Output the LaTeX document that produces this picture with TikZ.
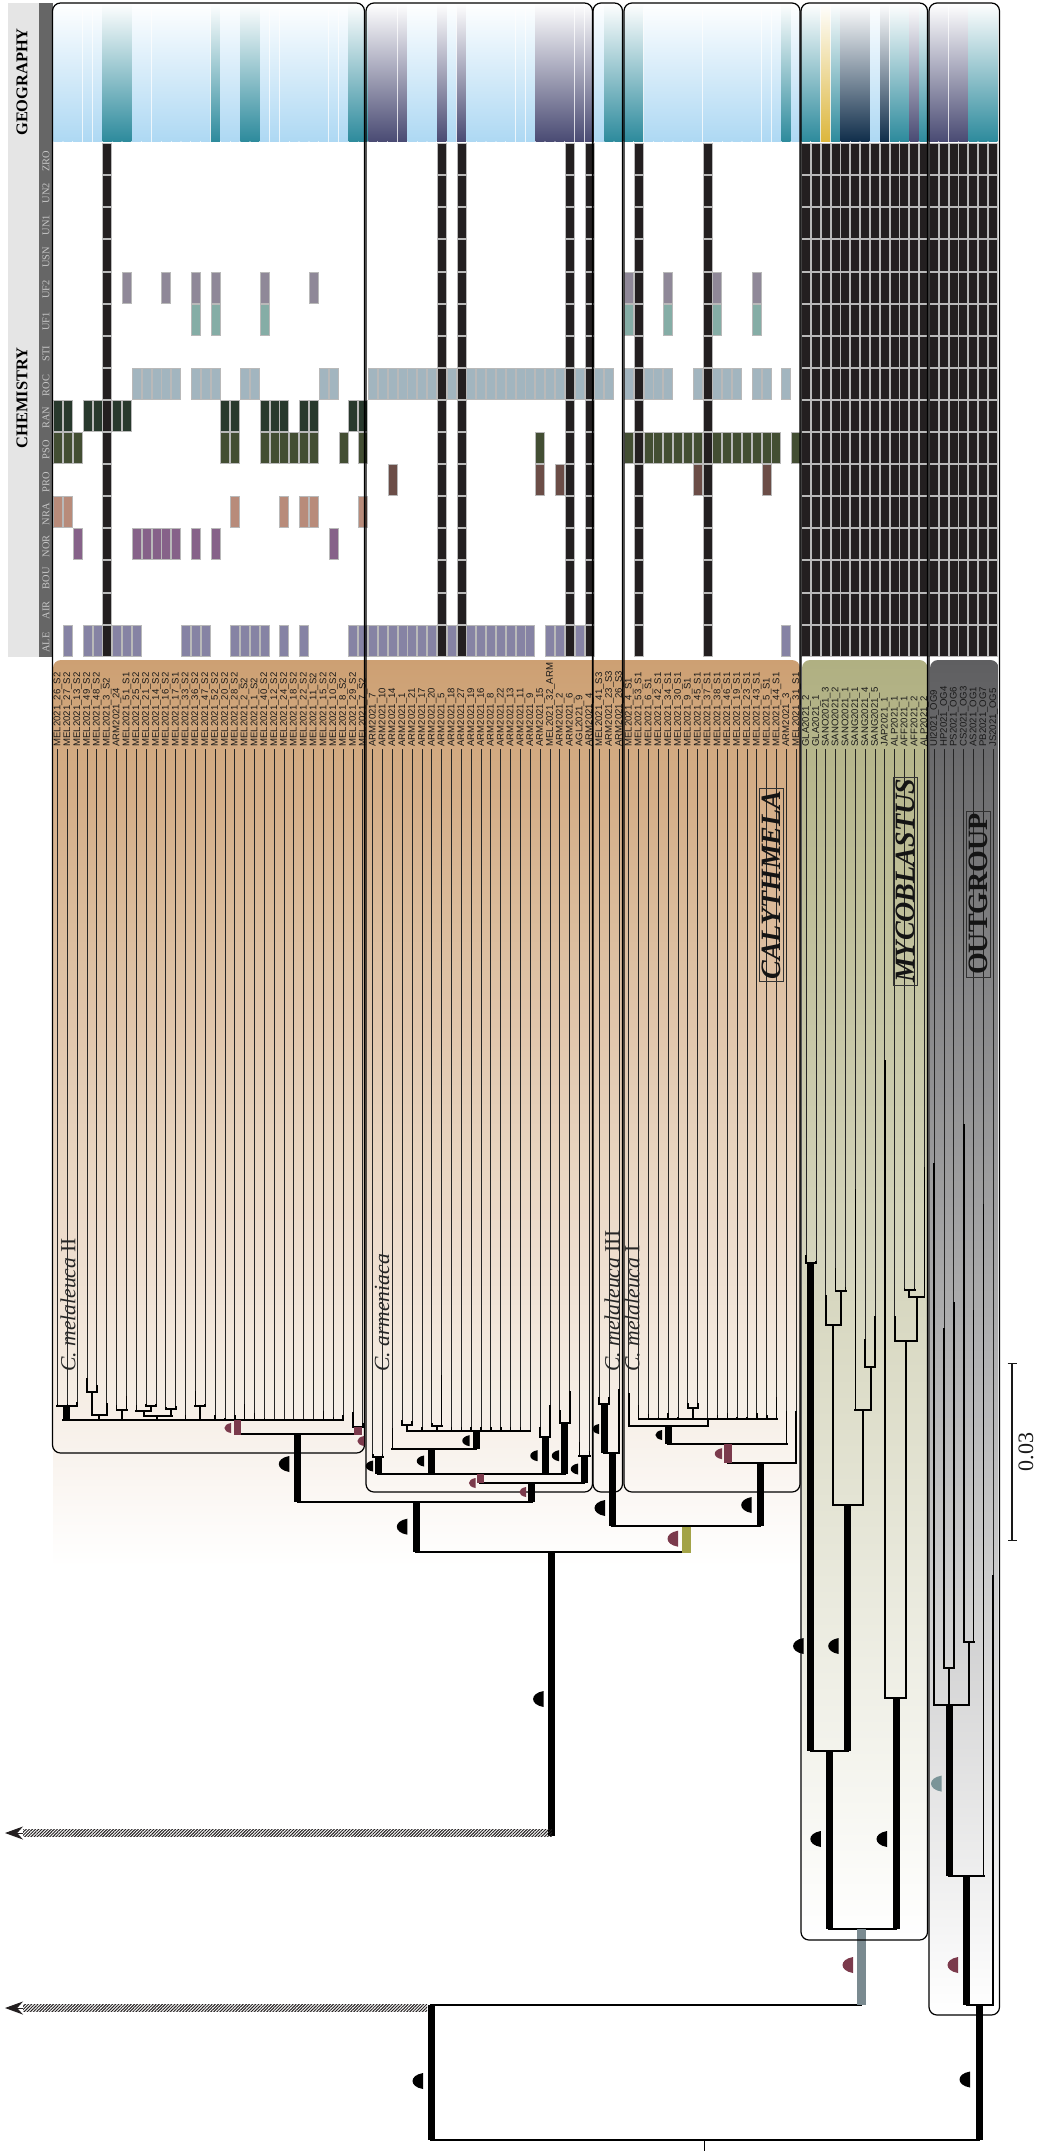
\documentclass[tikz,border=0pt]{standalone}
\usepackage{fontspec}
\setmainfont{Liberation Serif}
\newfontfamily\taxonfont{Liberation Sans}
\usepackage{tikz}
\usetikzlibrary{arrows.meta, patterns.meta}

\definecolor{skygeo}{HTML}{ADD8F3}
\definecolor{tealgeo}{HTML}{2C8A9C}
\definecolor{navygeo}{HTML}{494A73}
\definecolor{darkgeo}{HTML}{0F2D4A}
\definecolor{yellowgeo}{HTML}{DCB63C}
\definecolor{cellblack}{HTML}{231F20}
\definecolor{uftwo}{HTML}{8F8898}
\definecolor{ufone}{HTML}{85ADA6}
\definecolor{roccol}{HTML}{A2B5BF}
\definecolor{rancol}{HTML}{28392D}
\definecolor{psocol}{HTML}{434E33}
\definecolor{procol}{HTML}{6B4D47}
\definecolor{nracol}{HTML}{B88B7A}
\definecolor{norcol}{HTML}{866289}
\definecolor{alecol}{HTML}{8683A4}
\definecolor{caly}{RGB}{205,160,115}
\definecolor{myco}{RGB}{176,176,130}
\definecolor{ogrp}{RGB}{95,95,97}
\definecolor{suppred}{HTML}{7B3A4C}
\definecolor{suppteal}{HTML}{7A9498}
\definecolor{suppolive}{HTML}{A3A347}
\definecolor{suppgrey}{HTML}{7A8A90}

% half-ellipse support mark: colour, right edge x, centre y, half height
\newcommand{\suppmark}[4][black]{%
  \fill[#1] (#2,#3-#4) .. controls (#2-1.75*#4,#3-0.7*#4) and (#2-1.75*#4,#3+0.7*#4) .. (#2,#3+#4) -- cycle;}
% colour, columns
\newcommand{\geocols}[2]{%
  \foreach \i [evaluate=\i as \cx using 58+9.84*\i] in {#2}
    {\shade[top color=white, bottom color=#1] (\cx-4.55,3) rectangle (\cx+4.55,142);}}
% row, colour, columns
\newcommand{\chemrow}[3]{%
  \foreach \i [evaluate=\i as \cx using 58+9.84*\i] in {#3}
    {\filldraw[matcell, fill=#2] (\cx-4.5,{143.5+32.1*#1}) rectangle (\cx+4.5,{174.6+32.1*#1});}}

\begin{document}
\begin{tikzpicture}[x=0.5pt, y=-0.5pt, >=Stealth,
    every node/.style={inner sep=0pt},
    matcell/.style={draw=gray!55, line width=0.35pt},
    taxon/.style={rotate=90, anchor=west, font=\taxonfont\fontsize{4.8}{5}\selectfont, text height=3.4pt, text depth=0.6pt, text=black!90},
    rowname/.style={rotate=90, text=black!22, font=\fontsize{5.2}{6}\selectfont},
    headname/.style={rotate=90, font=\bfseries\fontsize{8.2}{9}\selectfont},
    cladename/.style={rotate=90, anchor=west, text=black!85, font=\fontsize{10.8}{12}\selectfont},
    genusname/.style={rotate=90, draw=black!80, line width=0.3pt, inner xsep=1pt, inner ysep=1.2pt, text=black!92, font=\bfseries\itshape\fontsize{14}{15}\selectfont},
    cladebox/.style={draw=black, line width=0.6pt, rounded corners=4pt},
    tipline/.style={draw=black!85, line width=0.45pt},
    tipthick/.style={draw=black, line width=0.8pt},
    brbar/.style={draw=black, line width=1.1pt, line cap=rect},
    brthin/.style={draw=black, line width=1pt},
    brstem/.style={draw=black, line width=3.5pt}]
  \useasboundingbox (0,0) rectangle (1039,2151);
  \fill[white] (0,0) rectangle (1039,2151);

  % --- header bands ---
  \fill[black!10] (8,3) rectangle (39,657);
  \fill[black!60] (39,3) rectangle (53,657);
  \node[headname] (geo) at (22,82) {GEOGRAPHY};
  \node[headname] (chem) at (22,398) {CHEMISTRY};
  \foreach \lab [count=\r from 0] in {ZRO,UN2,UN1,USN,UF2,UF1,STI,ROC,RAN,PSO,PRO,NRA,NOR,BOU,AIR,ALE}
    \node[rowname] (r\r) at (46,{161+32.1*\r}) {\lab};

  % --- geography ---
  \geocols{skygeo}{0,1,2,3,4,8,9,10,11,12,13,14,15,17,18,21,22,23,24,25,26,27,28,29,36,37,38,40,42,43,44,45,46,47,48,55,60,61,62,63,64,65,66,67,68,69,70,71,72,73,75,83}
  \geocols{tealgeo}{5,6,7,16,19,20,30,31,56,57,58,59,74,76,77,79,85,86,88,93,94,95}
  \geocols{navygeo}{32,33,34,35,39,41,49,50,51,52,53,54,87,89,90,91,92}
  \geocols{darkgeo}{80,81,82,84}
  \geocols{yellowgeo}{78}

  % --- chemistry ---
  \chemrow{4}{uftwo}{7,11,14,16,21,26,58,62,67,71}
  \chemrow{5}{ufone}{14,16,21,58,62,67,71}
  \chemrow{7}{roccol}{8,9,10,11,12,14,15,16,19,20,27,28,32,33,34,35,36,37,38,40,42,43,44,45,46,47,48,49,50,51,53,55,56,58,60,61,62,65,67,68,69,71,72,74}
  \chemrow{8}{rancol}{0,1,3,4,6,7,17,18,21,22,23,25,26,30,31}
  \chemrow{9}{psocol}{0,1,2,17,18,21,22,23,24,25,26,29,31,49,58,60,61,62,63,64,65,67,68,69,70,71,72,73,75}
  \chemrow{10}{procol}{34,49,51,65,72}
  \chemrow{11}{nracol}{0,1,18,23,25,26,31}
  \chemrow{12}{norcol}{2,8,9,10,11,12,14,16,28}
  \chemrow{15}{alecol}{1,3,4,6,7,8,13,14,15,18,19,20,21,23,25,30,31,32,33,34,35,36,37,38,40,42,43,44,45,46,47,48,50,51,53,74}
  \foreach \r in {0,...,15}
    {\chemrow{\r}{cellblack}{5,39,41,52,54,59,66,76,77,78,79,80,81,82,83,84,85,86,87,88,89,90,91,92,93,94,95}}

  % --- clade gradients ---
  \shade[top color=caly, bottom color=white, rounded corners=4pt] (53,660) rectangle (800,1567);
  \shade[top color=myco, bottom color=white, rounded corners=4pt] (802,660) rectangle (927.5,1940);
  \shade[top color=ogrp, bottom color=white, rounded corners=4pt] (930,660) rectangle (998.5,2015);

  % --- taxa ---
  \foreach \lab [count=\i from 0, evaluate=\i as \cx using 57.5+9.85*\i] in {
      MEL2021\_26\_S2,MEL2021\_27\_S2,MEL2021\_13\_S2,MEL2021\_49\_S2,MEL2021\_48\_S2,MEL2021\_3\_S2,ARM2021\_24,MEL2021\_51\_S1,
      MEL2021\_25\_S2,MEL2021\_21\_S2,MEL2021\_14\_S2,MEL2021\_16\_S2,MEL2021\_17\_S1,MEL2021\_33\_S2,MEL2021\_36\_S2,MEL2021\_47\_S2,
      MEL2021\_52\_S2,MEL2021\_20\_S2,MEL2021\_28\_S2,MEL2021\_2\_S2,MEL2021\_1\_S2,MEL2021\_40\_S2,MEL2021\_12\_S2,MEL2021\_24\_S2,
      MEL2021\_18\_S2,MEL2021\_22\_S2,MEL2021\_11\_S2,MEL2021\_15\_S2,MEL2021\_10\_S2,MEL2021\_8\_S2,MEL2021\_29\_S2,MEL2021\_7\_S2,
      ARM2021\_7,ARM2021\_10,ARM2021\_14,ARM2021\_1,ARM2021\_21,ARM2021\_17,ARM2021\_20,ARM2021\_5,ARM2021\_18,ARM2021\_27,ARM2021\_19,
      ARM2021\_16,ARM2021\_8,ARM2021\_22,ARM2021\_13,ARM2021\_11,ARM2021\_9,ARM2021\_15,MEL2021\_32\_ARM,ARM2021\_2,ARM2021\_6,AGL2021\_9,ARM2021\_4,
      MEL2021\_41\_S3,ARM2021\_23\_S3,ARM2021\_26\_S3,
      MEL2021\_4\_S1,MEL2021\_53\_S1,MEL2021\_6\_S1,MEL2021\_42\_S1,MEL2021\_34\_S1,MEL2021\_30\_S1,MEL2021\_9\_S1,MEL2021\_45\_S1,
      MEL2021\_37\_S1,MEL2021\_38\_S1,MEL2021\_46\_S1,MEL2021\_19\_S1,MEL2021\_23\_S1,MEL2021\_43\_S1,MEL2021\_5\_S1,MEL2021\_44\_S1,ARM2021\_3,MEL2021\_31\_S1,
      GLA2021\_2,GLA2021\_1,SANO2021\_3,SANO2021\_2,SANO2021\_1,SANG2021\_1,SANG2021\_4,SANG2021\_5,JAP2021\_1,ALP2021\_1,AFF2021\_1,AFF2021\_2,ALP2021\_2,
      UI2021\_OG9,HP2021\_OG4,PS2021\_OG6,CS2021\_OG3,AS2021\_OG1,PB2021\_OG7,JS2021\_OG5}
    \node[taxon] (t\i) at (\cx,747) {\lab};

  % --- tips: index / end of branch / where the thick part starts ---
  \foreach \i/\yend/\ythick [evaluate=\i as \cx using 57.5+9.85*\i] in {
      0/1405.7/1404,1/1405.7/1404,2/1405.7/1402,3/1392.3/1378.3,4/1392.3/1385,5/1415/1403.3,6/1410/1405,7/1410/1395.7,
      8/1410.7/1405,9/1405.7/1404,10/1405.7/1404,11/1409.3/1407,12/1409.3/1406,13/1420/1415,14/1405.7/1391,15/1405.7/1404,
      16/1420/1415,17/1420/1418,18/1420/1415,19/1420/1404,20/1420/1412.7,21/1420/1418.3,22/1420/1418.5,23/1420/1418.5,
      24/1420/1418.5,25/1420/1418.5,26/1420/1418.5,27/1420/1410.7,28/1420/1417.3,29/1420/1415,30/1426.7/1412.3,31/1426.7/1422.7,
      32/1456.7/1454,33/1456.7/1454,34/1449.3/1428.3,35/1425/1420,36/1425/1421,37/1430.7/1427,38/1426/1423,39/1426/1375,
      40/1430.7/1426.7,41/1430.7/1426.7,42/1430.7/1426.7,43/1430.7/1427,44/1430.7/1427,45/1430.7/1427,46/1430.7/1427,47/1430.7/1427,48/1430.7/1430,
      49/1436.7/1426.7,50/1436.7/1405,51/1423.3/1410,52/1423.3/1391,53/1455.7/1441.7,54/1455.7/1450.7,
      55/1404/1396.7,56/1404/1397,57/1453.3/1389.3,
      58/1425.7/1393.3,59/1419.3/1405,60/1419.3/1414.3,61/1419.3/1416.7,62/1419.3/1413.3,63/1419.3/1416.7,64/1408.3/1403.3,65/1408.3/1403.3,
      66/1419.3/1419,67/1419.3/1415,68/1419.3/1413.3,69/1419.3/1416.7,70/1419.3/1416.7,71/1419.3/1413.3,72/1419.3/1415,73/1419.3/1396.7,74/1444.3/1410.7,75/1463.3/1410.7,
      76/1263/1255,77/1263/1261,78/1325/1295,79/1291/1268,80/1291/1287,81/1410/1189,82/1367/1339,83/1367/1316,84/1698/1060,85/1341/1316,86/1290/1288,87/1290/1288,88/1297/1167,
      89/1705/1163,90/1668/1328,91/1668/1302,92/1642/1124,93/1642/1310,94/1876/1204,95/2005/1575}{
    \draw[tipline] ([yshift=-1.2pt]t\i.west) -- (\cx,\yend);
    \draw[tipthick] (\cx,\ythick) -- (\cx,\yend);
  }

  % --- horizontal bars: from / to / y ---
  \foreach \xa/\xb/\yy in {
      57.5/77.2/1405.7,87/97/1392.3,92/106.7/1415,117/126.7/1410,146/155.8/1405.7,136/150.7/1410.7,143.7/171.7/1415.7,165.9/175.7/1409.3,
      195.4/205.3/1405.7,63.3/343.2/1420,237.7/358.3/1434.3,353/362.9/1426.7,297.7/531.7/1501.7,
      372.7/382.6/1456.7,378.3/564.7/1474,392.4/476/1449.3,406.7/530.3/1430.7,402.2/412.1/1425,431.8/441.6/1426,540.1/550/1436.7,559.8/569.7/1423.3,579.5/589.4/1455.7,
      480/584.3/1483.3,416/686/1551.7,612.3/760/1526,604.3/619/1453.3,599.2/609/1404,727.7/796.3/1463.3,668.3/786.4/1444.3,628.8/708.3/1425.7,638.6/776.6/1419.3,687.9/697.7/1408.3,
      806/816/1263,810.7/848/1751,833.3/862.7/1505,825.7/841/1325,835.7/845.5/1291,855.3/870.7/1410,865.2/875/1367,829/896/1929,885/906/1698,895/917/1341,909.3/924.3/1297,904.6/914.5/1290,
      431/861/2005,431/979/2140,966.6/993.3/2005,949/983.4/1876,934/969/1705,944/953.9/1668,963.7/973.6/1642}
    \draw[brbar] (\xa,\yy) -- (\xb,\yy);

  % --- small stems: x / from / to ---
  \foreach \xx/\ya/\yb in {
      92/1392.3/1415,99.3/1415/1420,121.7/1410/1420,150.7/1405.7/1410.7,143.7/1410.7/1415.7,171/1409.3/1415.7,157.3/1415.7/1420,200.3/1405.7/1420,
      407/1425/1430.7,436.7/1426/1430.7,708.3/1419.3/1425.7,692.7/1408.3/1419.3,
      833.3/1325/1505,841/1291/1325,862.7/1410/1505,870.7/1367/1410,906/1341/1698,917/1297/1341,909.3/1290/1297,949/1668/1705,969/1642/1705}
    \draw[brthin] (\xx,\ya) -- (\xx,\yb);
  \draw[draw=black, line width=0.5pt] (704.7,2140) -- (704.7,2151);

  % --- thick stems: x / from / to ---
  \foreach \xx/\ya/\yb in {
      66.7/1405.7/1420,297.7/1434/1501.7,378.3/1456.7/1474,431/1449.3/1474,476/1430/1449.3,545/1436.7/1474,564.7/1423.3/1474,584.3/1455.7/1483.3,531.7/1483.3/1501.7,
      416/1501.7/1551.7,612.3/1453.3/1526,604.3/1404/1453.3,760/1463.3/1526,668.3/1425.7/1444.3,551.7/1551.7/1836,
      810.7/1263/1751,847/1505/1751,829/1751/1929,896/1698/1929,431/2005/2140,979/2005/2140,966.6/1876/2005,949/1705/1876}
    \draw[brstem] (\xx,\ya) -- (\xx,\yb);
  \draw[brstem, draw=suppred] (237.7,1420) -- (237.7,1435);
  \draw[brstem, draw=suppred, line width=4pt] (358.3,1426.7) -- (358.3,1435);
  \draw[brstem, draw=suppred] (480,1474) -- (480,1483);
  \draw[brstem, draw=suppred, line width=4pt] (727.7,1444.3) -- (727.7,1463.3);
  \draw[brstem, draw=suppolive, line width=4.5pt] (686,1526.7) -- (686,1552.7);
  \draw[brstem, draw=suppgrey, line width=4.5pt] (861,1929) -- (861,2005);

  % --- cut branches ---
  \coordinate (cuta) at (23,1833);
  \coordinate (cutb) at (23,2008);
  \coordinate (tipa) at (5,1833);
  \coordinate (tipb) at (5,2008);
  \fill[pattern={Lines[angle=45,distance=1.1pt,line width=0.5pt]}, pattern color=cellblack] (23,1829.5) rectangle (552,1836.5);
  \fill[pattern={Lines[angle=45,distance=1.1pt,line width=0.5pt]}, pattern color=cellblack] (23,2004.5) rectangle (427,2011.5);
  \draw[-{Stealth[length=9pt,width=6.5pt]}, cellblack, line width=0.5pt] (cuta) -- (tipa);
  \draw[-{Stealth[length=9pt,width=6.5pt]}, cellblack, line width=0.5pt] (cutb) -- (tipb);

  % --- clade boxes ---
  \draw[cladebox] (52.5,3) rectangle (364.5,1453);
  \draw[cladebox] (366,3) rectangle (592.5,1492);
  \draw[cladebox] (593,3) rectangle (622.5,1492);
  \draw[cladebox] (624,3) rectangle (800,1492);
  \draw[cladebox] (801,3) rectangle (927.5,1940);
  \draw[cladebox] (929,3) rectangle (999.5,2015);

  % --- clade names ---
  \node[cladename] (melb) at (68,1372) {\textit{C. melaleuca} II};
  \node[cladename] (arme) at (382,1372) {\textit{C. armeniaca}};
  \node[cladename] (melc) at (612,1372) {\textit{C. melaleuca} III};
  \node[cladename] (mela) at (632,1372) {\textit{C. melaleuca} I};
  \node[genusname] (calyname) at (771,885) {CALYTHMELA};
  \node[genusname] (myconame) at (905.5,881) {MYCOBLASTUS};
  \node[genusname, font=\bfseries\fontsize{14}{15}\selectfont] (ogrpname) at (978,894) {OUTGROUP};

  % --- support marks ---
  \foreach \xx/\yy/\hh in {289.3/1464/8,373/1466/5.5,424/1461/5.5,469.5/1440.7/5.5,537.5/1455.7/5.5,559/1455.7/5.5,578/1469/5.5,
      407.3/1526.7/8,599/1429/5,605/1508/8,751.7/1505/8,662/1435/5,543.6/1699/8,803.6/1646/8,838.7/1646/8,820.8/1839/8,887/1839/8,423/2081/8,970/2079.5/8}
    {\suppmark{\xx}{\yy}{\hh}}
  \foreach \xx/\yy/\hh in {231/1428/5,364/1441/5,475.5/1483/5,526/1492/5,722/1453.7/5.5,678/1538.7/8,853/1965/8,958/1965/8}
    {\suppmark[suppred]{\xx}{\yy}{\hh}}
  \suppmark[suppteal]{941.5}{1783.6}{8}

  % --- scale bar ---
  \draw[{Bar[width=4.5pt]}-{Bar[width=4.5pt]}, black!90, line width=0.7pt] (1012,1363) -- (1012,1541);
  \node[rotate=90, text=black!90, font=\fontsize{11}{12}\selectfont] (sbar) at (1026,1452) {0.03};
\end{tikzpicture}
\end{document}
